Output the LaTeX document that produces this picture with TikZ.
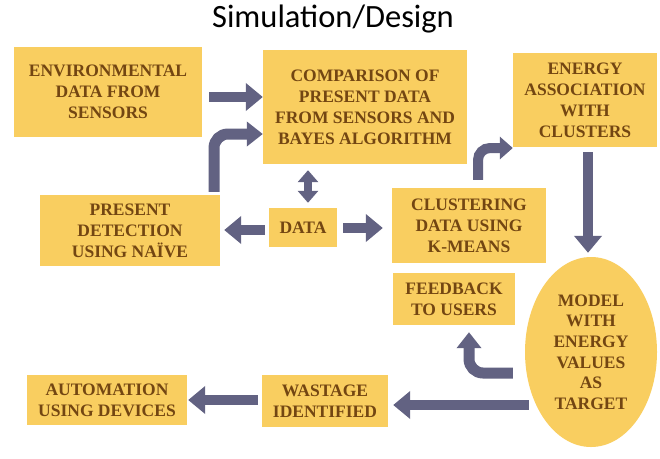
\documentclass[tikz,border=0pt]{standalone}
\usepackage{fontspec}
\setmainfont{Liberation Serif}
\newfontfamily\titlefont{Carlito}
\usetikzlibrary{arrows.meta,shapes.geometric,calc}
\definecolor{boxfill}{RGB}{249,206,96}
\definecolor{txt}{RGB}{115,70,18}
\definecolor{arr}{RGB}{98,98,130}
\begin{document}
\begin{tikzpicture}[x=1pt,y=-1pt,
  box/.style={fill=boxfill, text=txt, font=\fontsize{17.5}{21}\selectfont\bfseries, align=center, inner sep=0pt},
  barrow/.style={draw=arr, line width=10pt, -{Triangle[width=27pt,length=17pt]}},
  carrow/.style={draw=arr, line width=11pt, rounded corners=14pt, -{Triangle[width=24pt,length=16pt]}},
  darrow/.style={draw=arr, line width=8pt, {Triangle[width=20pt,length=12pt]}-{Triangle[width=20pt,length=12pt]}}
  ]
\fill[white] (0,0) rectangle (660,458);
\useasboundingbox (0,0) rectangle (660,458);

\node[font=\titlefont\fontsize{32.5}{32.5}\selectfont] (title) at (333,19) {Simulation/Design};

\node[box, minimum width=188pt, minimum height=90pt] (env) at (108,92) {ENVIRONMENTAL\\DATA FROM\\SENSORS};
\node[box, minimum width=204pt, minimum height=114pt] (comp) at (365,107) {COMPARISON OF\\PRESENT DATA\\FROM SENSORS AND\\BAYES ALGORITHM};
\node[box, minimum width=144pt, minimum height=94pt] (energy) at (585,100) {ENERGY\\ASSOCIATION\\WITH\\CLUSTERS};
\node[box, minimum width=180pt, minimum height=71pt] (present) at (130,230.5) {PRESENT\\DETECTION\\USING NAÏVE};
\node[box, minimum width=68pt, minimum height=39pt] (data) at (303,227.5) {DATA};
\node[box, minimum width=154pt, minimum height=75pt] (cluster) at (469,225.5) {CLUSTERING\\DATA USING\\K-MEANS};
\node[box, minimum width=122pt, minimum height=52pt] (feedback) at (454,299) {FEEDBACK\\TO USERS};
\node[box, ellipse, minimum width=132pt, minimum height=190pt, font=\fontsize{17.5}{20.6}\selectfont\bfseries] (model) at (591,352) {MODEL\\WITH\\ENERGY\\VALUES\\AS\\TARGET};
\node[box, minimum width=126pt, minimum height=52pt] (wastage) at (325,401) {WASTAGE\\IDENTIFIED};
\node[box, minimum width=160pt, minimum height=50pt] (automation) at (107,400) {AUTOMATION\\USING DEVICES};

\draw[barrow, shorten <=7pt] (env.east |- 0,97) -- (comp.west |- 0,97);
\draw[carrow, shorten <=3pt] (present.north -| 214,0) |- (comp.west |- 0,134);
\draw[darrow, shorten <=6pt, shorten >=5pt] (comp.south -| 308,0) -- (data.north -| 308,0);
\draw[barrow, shorten <=4pt, shorten >=4pt] (data.west |- 0,230) -- (present.east |- 0,230);
\draw[barrow, shorten <=6pt, shorten >=9pt] (data.east |- 0,228) -- (cluster.west |- 0,228);
\draw[draw=arr, line width=10pt, rounded corners=12pt, -{Triangle[width=22pt,length=13pt]}, shorten <=8pt] (cluster.north -| 478,0) |- (energy.west |- 0,148);
\draw[barrow, shorten <=5pt, shorten >=4pt] (energy.south -| 588,0) -- (model.north -| 588,0);
\draw[carrow, shorten <=12pt, shorten >=7pt] (model.west |- 0,373) -| (feedback.south -| 469,0);
\draw[barrow, shorten <=-4pt, shorten >=5pt] (model.west |- 0,405) -- (wastage.east |- 0,405);
\draw[barrow, shorten <=4pt, shorten >=1pt] (wastage.west |- 0,400) -- (automation.east |- 0,400);
\end{tikzpicture}
\end{document}
